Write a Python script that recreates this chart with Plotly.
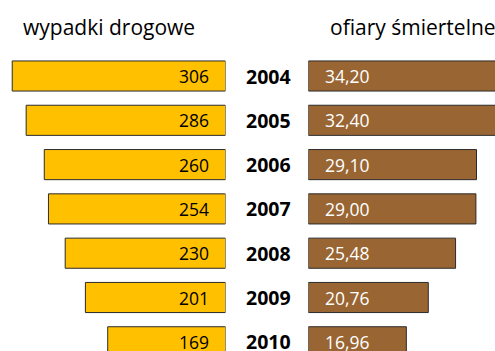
import plotly.graph_objects as go

years = ["2004", "2005", "2006", "2007", "2008", "2009", "2010"]
accidents = [306, 286, 260, 254, 230, 201, 169]
fatalities = [34.20, 32.40, 29.10, 29.00, 25.48, 20.76, 16.96]

W, H = 495, 351
FONT = "Open Sans"
YELLOW = "#FFC000"
BROWN = "#996633"
EDGE = "#2b2b2b"

rows = list(range(len(years)))

fig = go.Figure()

fig.add_trace(go.Bar(
    y=rows, x=accidents, orientation="h", xaxis="x", yaxis="y",
    marker=dict(color=YELLOW, line=dict(color=EDGE, width=1)),
    width=0.68, hoverinfo="skip",
))
fig.add_trace(go.Bar(
    y=rows, x=fatalities, orientation="h", xaxis="x2", yaxis="y",
    marker=dict(color=BROWN, line=dict(color=EDGE, width=1)),
    width=0.68, hoverinfo="skip",
))

annotations = []
for i, (yr, a, f) in enumerate(zip(years, accidents, fatalities)):
    annotations.append(dict(
        x=0, y=i, xref="x", yref="y", text=str(a), showarrow=False,
        xanchor="right", yanchor="middle", xshift=-15,
        font=dict(family=FONT, size=17.5, color="black"),
    ))
    annotations.append(dict(
        x=0, y=i, xref="x2", yref="y", text=f"{f:.2f}".replace(".", ","),
        showarrow=False, xanchor="left", yanchor="middle", xshift=15,
        font=dict(family=FONT, size=17.5, color="white"),
    ))
    annotations.append(dict(
        x=268 / W, y=i, xref="paper", yref="y", text=f"<b>{yr}</b>",
        showarrow=False, xanchor="center", yanchor="middle",
        font=dict(family=FONT, size=19.5, color="black"),
    ))

annotations.append(dict(
    x=109 / W, y=1 - 27 / H, xref="paper", yref="paper", text="wypadki drogowe",
    showarrow=False, xanchor="center", yanchor="middle",
    font=dict(family=FONT, size=21, color="black"),
))
annotations.append(dict(
    x=413 / W, y=1 - 27 / H, xref="paper", yref="paper", text="ofiary śmiertelne",
    showarrow=False, xanchor="center", yanchor="middle",
    font=dict(family=FONT, size=21, color="black"),
))

left_px = 225.5
right_start = 308.3
left_scale = 0.697   # px per accident
right_scale = 5.78   # px per fatality

fig.update_layout(
    width=W, height=H, margin=dict(l=0, r=0, t=0, b=0),
    paper_bgcolor="white", plot_bgcolor="white",
    showlegend=False, barmode="overlay",
    xaxis=dict(domain=[0, left_px / W], range=[left_px / left_scale, 0],
               visible=False, fixedrange=True),
    xaxis2=dict(domain=[right_start / W, 1],
                range=[0, (W - right_start) / right_scale],
                visible=False, fixedrange=True),
    yaxis=dict(range=[(H - 76) / 44.3, -76 / 44.3], visible=False, fixedrange=True),
    annotations=annotations,
)

fig.write_html("out.html")
